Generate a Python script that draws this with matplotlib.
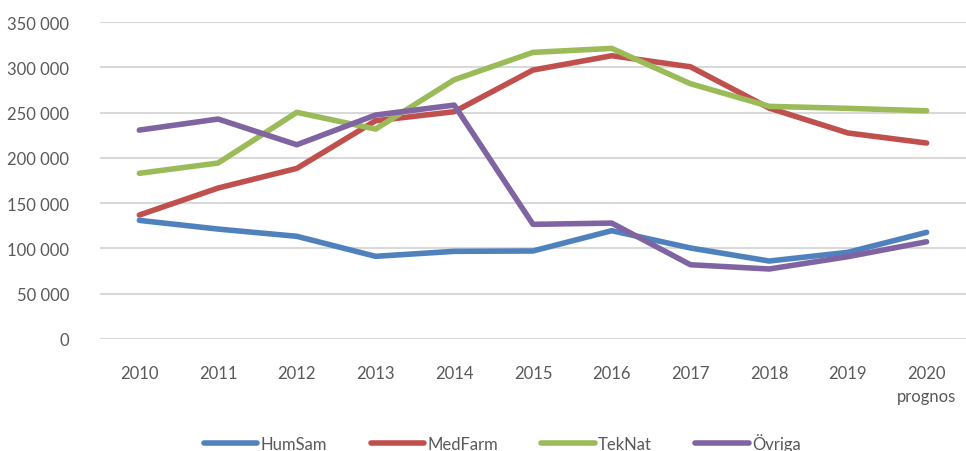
import matplotlib
matplotlib.use('Agg')
import matplotlib.pyplot as plt
from matplotlib.ticker import FuncFormatter

# ======================
# DATA
# ======================
years = ['2010', '2011', '2012', '2013', '2014', '2015', '2016', '2017', '2018', '2019', '2020\nprognos']
humsam = [131000, 121400, 113400, 91300, 96800, 97200, 119600, 100500, 86100, 95700, 117800]
medfarm = [136900, 166700, 188400, 241000, 251000, 297000, 312800, 300600, 255000, 227500, 216400]
teknat = [183000, 194300, 250300, 231800, 286300, 316500, 320900, 281900, 256900, 254700, 252000]
ovriga = [230700, 242900, 214500, 247300, 258300, 126600, 128000, 82000, 77300, 90900, 107400]

series = [
    ('HumSam', humsam, '#4F81BD'),
    ('MedFarm', medfarm, '#C0504D'),
    ('TekNat', teknat, '#9BBB59'),
    ('Övriga', ovriga, '#8064A2'),
]

plt.rcParams['font.family'] = ['Lato', 'DejaVu Sans']
TEXT = '#595959'

fig = plt.figure(figsize=(9.66, 4.52), dpi=100)
ax = fig.add_axes([0.1035, 0.2478, 0.8965, 0.7012])

x = list(range(len(years)))
for name, vals, color in series:
    ax.plot(x, vals, color=color, lw=4.0, label=name, solid_capstyle='round',
            solid_joinstyle='round')

ax.set_ylim(0, 350000)
ax.set_xlim(-0.5, 10.5)
ax.set_yticks(range(0, 350001, 50000))
ax.yaxis.set_major_formatter(FuncFormatter(lambda v, p: f'{int(v):,}'.replace(',', ' ')))
ax.set_xticks(x)
ax.set_xticklabels(years, linespacing=1.5)
ax.grid(axis='y', color='#D9D9D9', lw=1.5)
ax.set_axisbelow(True)
for s in ax.spines.values():
    s.set_visible(False)
ax.tick_params(axis='both', length=0, labelsize=12, colors=TEXT)
ax.tick_params(axis='y', pad=22)
ax.tick_params(axis='x', pad=19)

leg = fig.legend(loc='lower center', bbox_to_anchor=(0.52, -0.035), ncol=4, frameon=False,
                 fontsize=12, handlelength=3.2, handletextpad=0.2, columnspacing=2.6)
for t in leg.get_texts():
    t.set_color(TEXT)

fig.savefig('out.png', dpi=100)
